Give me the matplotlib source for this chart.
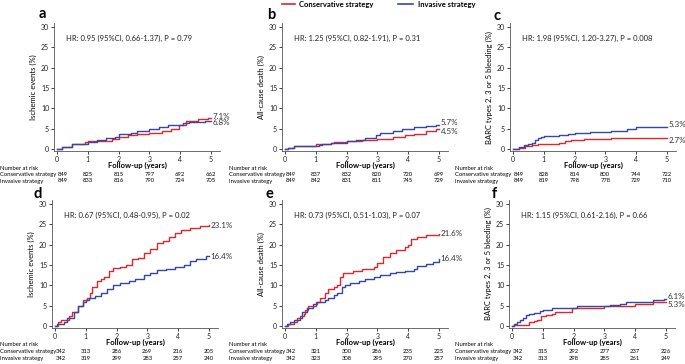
import matplotlib
matplotlib.use("Agg")
import matplotlib.pyplot as plt
from matplotlib.transforms import blended_transform_factory
from matplotlib.lines import Line2D

plt.rcParams['font.family'] = ['Lato', 'DejaVu Sans']

RED = '#e3262b'
BLUE = '#3547a3'
GREY = '#333333'

years = [0, 1, 2, 3, 4, 5]

# Panel a: ischemic events (n=849)
a_cons_t = [0, 0.15, 0.5, 0.9, 1.0, 1.5, 1.8, 2.0, 2.3, 2.6, 3.0, 3.4, 3.7, 3.95, 4.2, 4.6, 4.9, 5.0]
a_cons_v = [0, 0.5, 1.3, 1.6, 2.0, 2.0, 2.5, 3.0, 3.4, 3.6, 4.0, 4.4, 5.0, 5.8, 7.0, 7.3, 7.5, 7.5]
a_inv_t = [0, 0.15, 0.5, 1.0, 1.3, 1.6, 1.9, 2.0, 2.4, 2.6, 3.0, 3.3, 3.6, 3.9, 4.1, 4.3, 4.8, 5.0]
a_inv_v = [0, 0.5, 1.3, 1.8, 2.3, 2.8, 3.0, 3.8, 4.0, 4.5, 5.0, 5.5, 5.8, 6.0, 6.5, 6.7, 7.0, 7.0]

# Panel b: all-cause death (n=849)
b_cons_t = [0, 0.1, 0.3, 1.0, 1.5, 1.6, 2.0, 2.5, 3.0, 3.5, 3.9, 4.2, 4.6, 4.9, 5.0]
b_cons_v = [0, 0.3, 0.8, 1.3, 1.5, 1.8, 2.0, 2.3, 2.5, 3.0, 3.5, 3.8, 4.3, 4.8, 4.8]
b_inv_t = [0, 0.1, 0.3, 1.1, 1.2, 1.5, 2.0, 2.3, 2.6, 2.85, 2.95, 3.1, 3.5, 3.8, 4.2, 4.6, 4.9, 5.0]
b_inv_v = [0, 0.3, 0.8, 1.0, 1.3, 1.5, 2.0, 2.3, 2.6, 2.8, 3.5, 4.0, 4.5, 5.0, 5.3, 5.6, 5.9, 5.9]

# Panel c: BARC 2, 3 or 5 bleeding (n=849)
c_cons_t = [0, 0.2, 0.4, 0.6, 0.8, 1.2, 1.5, 1.7, 1.9, 2.3, 3.2, 4.2, 5.0]
c_cons_v = [0, 0.3, 0.7, 1.0, 1.2, 1.3, 1.5, 2.0, 2.3, 2.5, 2.7, 2.8, 2.8]
c_inv_t = [0, 0.2, 0.35, 0.5, 0.6, 0.7, 0.8, 0.9, 1.0, 1.5, 1.8, 2.0, 2.5, 3.2, 3.7, 4.0, 4.6, 5.0]
c_inv_v = [0, 0.5, 1.0, 1.3, 1.5, 2.2, 2.8, 3.0, 3.2, 3.5, 3.7, 4.0, 4.2, 4.5, 5.0, 5.3, 5.5, 5.5]

# Panel d: ischemic events (n=342)
d_cons_t = [0, 0.1, 0.2, 0.45, 0.55, 0.75, 0.9, 1.05, 1.15, 1.2, 1.35, 1.5, 1.6, 1.75, 1.9, 2.1, 2.3, 2.5,
            2.7, 2.9, 3.1, 3.3, 3.5, 3.7, 3.9, 4.1, 4.4, 4.7, 5.0]
d_cons_v = [0, 1.0, 1.5, 2.5, 3.5, 5.0, 6.5, 7.0, 8.0, 9.5, 11.0, 11.5, 12.0, 13.5, 14.3, 14.5, 15.0, 16.5,
            16.8, 18.0, 19.0, 20.5, 21.0, 22.0, 23.0, 23.5, 24.0, 24.6, 24.8]
d_inv_t = [0, 0.05, 0.3, 0.4, 0.6, 0.75, 0.9, 1.0, 1.1, 1.3, 1.5, 1.7, 1.9, 2.1, 2.4, 2.6, 2.9, 3.1, 3.3,
           3.6, 3.9, 4.2, 4.4, 4.6, 4.9, 5.0]
d_inv_v = [0, 0.5, 1.0, 2.0, 3.5, 5.0, 6.0, 6.5, 7.0, 7.3, 8.0, 9.0, 10.0, 10.5, 11.0, 11.5, 12.5, 13.0, 13.8,
           14.0, 14.5, 15.0, 16.0, 16.5, 17.2, 17.2]

# Panel e: all-cause death (n=342)
e_cons_t = [0, 0.1, 0.3, 0.4, 0.5, 0.6, 0.65, 0.75, 1.0, 1.15, 1.3, 1.4, 1.6, 1.7, 1.8, 1.9, 2.2, 2.5, 2.9,
            3.0, 3.2, 3.4, 3.6, 3.9, 4.0, 4.1, 4.3, 4.6, 5.0]
e_cons_v = [0, 0.5, 1.0, 2.0, 2.5, 3.0, 4.0, 5.0, 6.0, 7.0, 8.0, 9.0, 9.5, 10.0, 12.0, 13.0, 13.5, 14.0, 14.5,
            15.5, 17.0, 18.0, 18.8, 19.5, 20.0, 21.5, 22.0, 22.5, 22.7]
e_inv_t = [0, 0.05, 0.15, 0.3, 0.5, 0.55, 0.7, 0.9, 1.05, 1.3, 1.4, 1.6, 1.7, 1.85, 1.95, 2.1, 2.4, 2.6, 2.9,
           3.1, 3.4, 3.6, 3.9, 4.2, 4.3, 4.6, 4.8, 5.0]
e_inv_v = [0, 0.5, 1.0, 1.5, 2.0, 3.5, 4.5, 5.5, 6.0, 6.5, 7.0, 7.5, 8.0, 9.5, 10.0, 10.5, 11.0, 11.5, 12.0,
           12.5, 13.0, 13.3, 13.5, 14.0, 14.8, 15.3, 15.8, 16.5]

# Panel f: BARC 2, 3 or 5 bleeding (n=342)
f_cons_t = [0, 0.05, 0.55, 0.7, 0.8, 0.95, 1.1, 1.3, 1.4, 1.95, 3.0, 3.6, 4.0, 4.6, 5.0]
f_cons_v = [0, 0.3, 1.0, 1.2, 1.5, 2.5, 2.7, 3.0, 3.5, 4.5, 4.8, 5.0, 5.5, 5.8, 6.0]
f_inv_t = [0, 0.05, 0.15, 0.25, 0.35, 0.45, 0.55, 0.7, 0.9, 1.0, 1.3, 2.1, 3.2, 3.5, 3.7, 4.0, 4.6, 4.95, 5.0]
f_inv_v = [0, 0.5, 1.0, 1.5, 2.0, 2.7, 3.0, 3.3, 3.8, 4.0, 4.3, 4.8, 5.2, 5.5, 5.8, 6.0, 6.3, 6.7, 6.7]

panel_letters = ['a', 'b', 'c', 'd', 'e', 'f']
ylabels = ['Ischemic events (%)', 'All-cause death (%)', 'BARC types 2, 3 or 5 bleeding (%)',
           'Ischemic events (%)', 'All-cause death (%)', 'BARC types 2, 3 or 5 bleeding (%)']
hr_texts = ['HR: 0.95 (95%CI, 0.66-1.37), P = 0.79',
            'HR: 1.25 (95%CI, 0.82-1.91), P = 0.31',
            'HR: 1.98 (95%CI, 1.20-3.27), P = 0.008',
            'HR: 0.67 (95%CI, 0.48-0.95), P = 0.02',
            'HR: 0.73 (95%CI, 0.51-1.03), P = 0.07',
            'HR: 1.15 (95%CI, 0.61-2.16), P = 0.66']
end_cons = ['7.1%', '4.5%', '2.7%', '23.1%', '21.6%', '5.3%']
end_inv = ['6.8%', '5.7%', '5.3%', '16.4%', '16.4%', '6.1%']
risk_cons = [[849, 825, 815, 797, 692, 662], [849, 837, 832, 820, 720, 699], [849, 828, 814, 800, 744, 722],
             [342, 313, 286, 269, 216, 205], [342, 321, 300, 286, 235, 225], [342, 315, 292, 277, 237, 226]]
risk_inv = [[849, 833, 816, 790, 724, 705], [849, 842, 831, 811, 745, 729], [849, 819, 798, 778, 729, 710],
            [342, 319, 299, 283, 257, 240], [342, 323, 308, 295, 270, 257], [342, 313, 298, 285, 261, 249]]

series = [(a_cons_t, a_cons_v, a_inv_t, a_inv_v), (b_cons_t, b_cons_v, b_inv_t, b_inv_v),
          (c_cons_t, c_cons_v, c_inv_t, c_inv_v), (d_cons_t, d_cons_v, d_inv_t, d_inv_v),
          (e_cons_t, e_cons_v, e_inv_t, e_inv_v), (f_cons_t, f_cons_v, f_inv_t, f_inv_v)]

W, H = 685, 364
fig = plt.figure(figsize=(W / 100, H / 100), dpi=100)

# pixel layout
spine_x = [54, 282, 510, 52, 282, 509]
row_top = [23, 200]
row_bot = [151, 328]
ax_w = 166
label_x = [0, 229, 455, 0, 229, 455]
letter_pos = [(39, 14), (267, 15), (494, 16), (33, 194), (266, 194), (492, 194)]
risk_y = [(168, 174.5, 181), (344, 351.5, 358.5)]
xlabel_y = [165, 342]
RISK_FS = 4.2

for i in range(6):
    r = i // 3
    x0 = spine_x[i]
    top, bot = row_top[r], row_bot[r]
    ax = fig.add_axes([x0 / W, 1 - bot / H, ax_w / W, (bot - top) / H])
    ct, cv, it, iv = series[i]
    ax.step(ct, cv, where='post', color=RED, lw=1.0)
    ax.step(it, iv, where='post', color=BLUE, lw=1.0)
    ax.set_xlim(-0.1, 5.3)
    ax.set_ylim(-0.5, 31)
    ax.set_xticks(years)
    ax.set_yticks([0, 5, 10, 15, 20, 25, 30])
    ax.tick_params(labelsize=5, length=2, width=0.6, pad=1.5, colors='#222222')
    for s in ['top', 'right']:
        ax.spines[s].set_visible(False)
    for s in ['left', 'bottom']:
        ax.spines[s].set_linewidth(0.6)
        ax.spines[s].set_color('#555555')
    ax.set_ylabel(ylabels[i], fontsize=5.5, labelpad=3)
    ax.text(0.3, 27.3, hr_texts[i], fontsize=5.5, va='center', ha='left', color='#222222')
    # end labels
    cy, iy = cv[-1], iv[-1]
    if cy >= iy:
        cy_l, iy_l = cy + 0.6, iy - 0.6
    else:
        cy_l, iy_l = cy - 0.6, iy + 0.6
    if abs(cy - iy) > 3:
        cy_l, iy_l = cy, iy
    ax.text(5.06, cy_l, end_cons[i], fontsize=5.8, va='center', ha='left', color=GREY)
    ax.text(5.06, iy_l, end_inv[i], fontsize=5.8, va='center', ha='left', color=GREY)

    # panel letter
    lx, ly = letter_pos[i]
    fig.text(lx / W, 1 - ly / H, panel_letters[i], fontsize=10.5, fontweight='bold', ha='left', va='center')

    # x label
    fig.text((x0 + ax_w / 2) / W, 1 - xlabel_y[r] / H, 'Follow-up (years)', fontsize=5.5,
             fontweight='bold', ha='center', va='center')

    # risk table
    ny, cy_t, iy_t = risk_y[r]
    fig.text(label_x[i] / W, 1 - ny / H, 'Number at risk', fontsize=RISK_FS, ha='left', va='center')
    fig.text(label_x[i] / W, 1 - cy_t / H, 'Conservative strategy', fontsize=RISK_FS, ha='left', va='center')
    fig.text(label_x[i] / W, 1 - iy_t / H, 'Invasive strategy', fontsize=RISK_FS, ha='left', va='center')
    tr = blended_transform_factory(ax.transData, fig.transFigure)
    for k, yr in enumerate(years):
        dx = 0.2 if k == 0 else 0
        ax.text(yr + dx, 1 - cy_t / H, str(risk_cons[i][k]), transform=tr,
                fontsize=RISK_FS, ha='center', va='center', clip_on=False)
        ax.text(yr + dx, 1 - iy_t / H, str(risk_inv[i][k]), transform=tr,
                fontsize=RISK_FS, ha='center', va='center', clip_on=False)

# legend at top
fig.add_artist(Line2D([282 / W, 295 / W], [1 - 4 / H, 1 - 4 / H], color=RED, lw=1.2))
fig.text(299 / W, 1 - 4 / H, 'Conservative strategy', fontsize=5.5, fontweight='bold', ha='left', va='center')
fig.add_artist(Line2D([398 / W, 413 / W], [1 - 4 / H, 1 - 4 / H], color=BLUE, lw=1.2))
fig.text(418 / W, 1 - 4 / H, 'Invasive strategy', fontsize=5.5, fontweight='bold', ha='left', va='center')

fig.savefig('out.png', dpi=100)
